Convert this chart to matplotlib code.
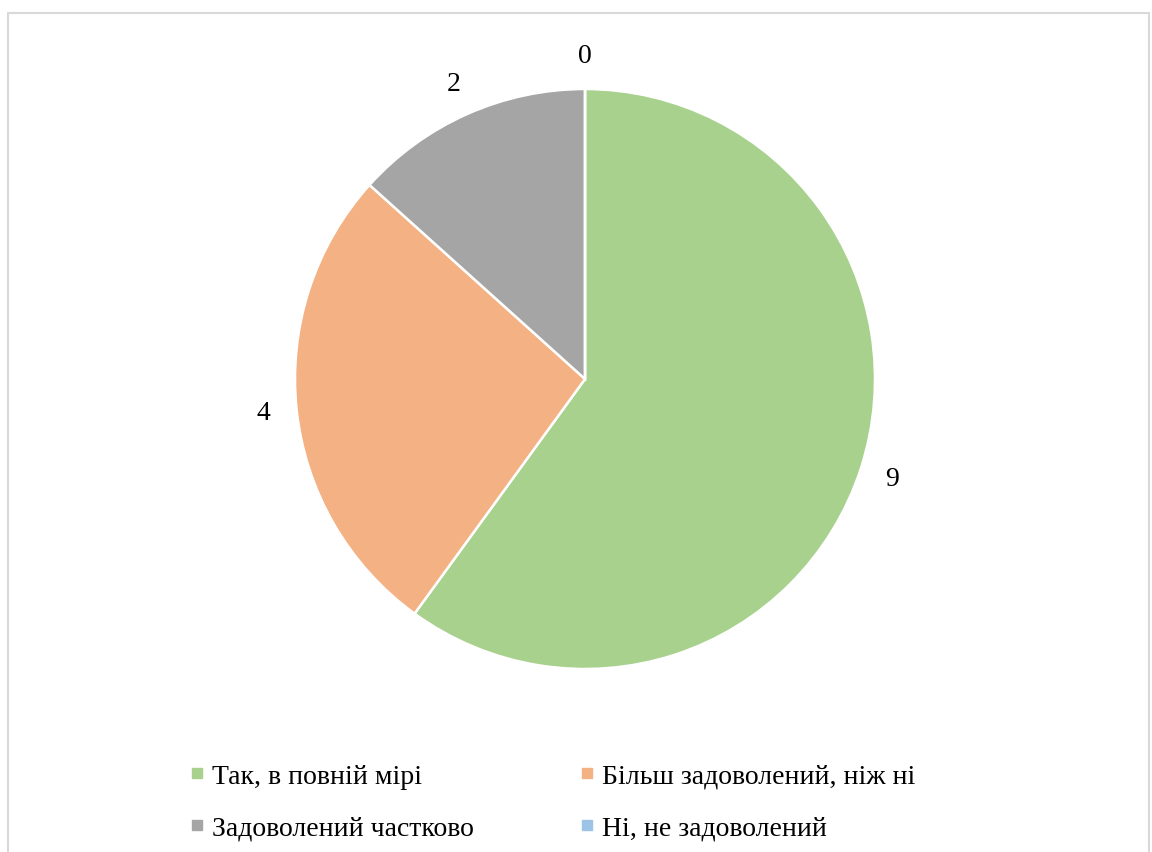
import matplotlib.pyplot as plt
from matplotlib.lines import Line2D
from matplotlib.patches import Rectangle

categories = ['Так, в повній мірі', 'Більш задоволений, ніж ні',
              'Задоволений частково', 'Ні, не задоволений']
values = [9, 4, 2, 0]
colors = ['#A9D18E', '#F4B183', '#A5A5A5', '#9DC3E6']

plt.rcParams['font.family'] = ['Liberation Serif', 'DejaVu Serif']

W, H = 1152, 853
fig = plt.figure(figsize=(W / 100, H / 100), dpi=100)

# light frame of the chart area
fig.patches.append(Rectangle((8 / W, -0.05), (1149 - 8) / W, 1.05 - 13.5 / H,
                             transform=fig.transFigure, fill=False,
                             edgecolor='#D9D9D9', linewidth=1.5))

cx, cy, r = 585, 380, 290
ax = fig.add_axes([(cx - r) / W, (H - cy - r) / H, 2 * r / W, 2 * r / H])
total = sum(values)
wedges, texts, autotexts = ax.pie(
    values, colors=colors, startangle=90, counterclock=False,
    wedgeprops=dict(edgecolor='white', linewidth=1.8),
    autopct=lambda p: f'{round(p * total / 100):d}', pctdistance=1.115,
    textprops=dict(fontsize=20, color='black'))
ax.set_xlim(-1, 1)
ax.set_ylim(-1, 1)
ax.axis('off')

handles = [Line2D([], [], linestyle='none', marker='s', markersize=7,
                  markerfacecolor=c, markeredgecolor=c) for c in colors]
order = [0, 2, 1, 3]
fig.legend([handles[i] for i in order], [categories[i] for i in order],
           ncol=2, loc='center left', bbox_to_anchor=(190 / W, 1 - 803 / H),
           borderaxespad=0, borderpad=0,
           frameon=False, fontsize=20, handlelength=0.5, handletextpad=0.3,
           columnspacing=3.8, labelspacing=0.95)

fig.savefig('out.png', dpi=100)
